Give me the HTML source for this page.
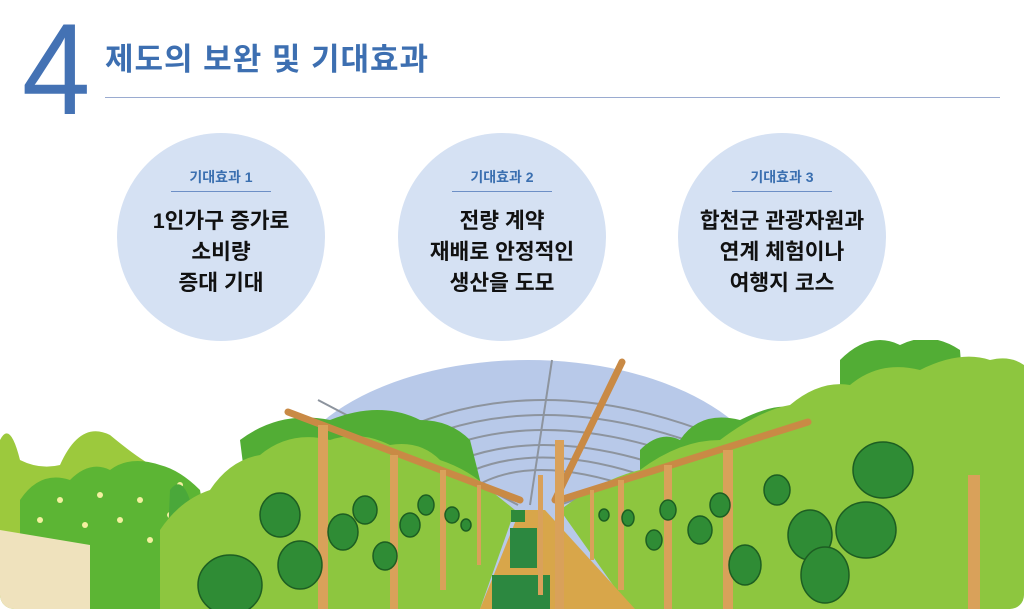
<!DOCTYPE html>
<html><head><meta charset="utf-8"><style>
html,body{margin:0;padding:0;background:#fff;overflow:hidden;}
#w{position:relative;width:1024px;height:609px;overflow:hidden;background:#fff;font-family:"Liberation Sans","Noto Sans CJK KR",sans-serif;}
.four{position:absolute;left:20px;top:4px;font-size:130px;color:#4472b4;font-family:"Liberation Sans",sans-serif;line-height:1;transform:scaleX(0.95);}
.title{position:absolute;left:105px;top:34px;font-size:31px;color:#3d6fb1;letter-spacing:1px;font-weight:bold;}
.rule{position:absolute;left:105px;top:97px;width:895px;height:1px;background:#9aabd0;}
.c{position:absolute;width:208px;height:208px;border-radius:50%;background:#d5e1f3;top:133px;text-align:center;}
.c .h{margin-top:34px;font-size:14px;font-weight:bold;color:#3a6fb0;display:inline-block;padding:0 8px 4px;border-bottom:1.5px solid #6d8fc6;width:84px;}
.c .t{margin-top:14px;font-size:21.5px;line-height:31px;color:#111;font-weight:bold;}
</style></head><body><div id="w">
<div class="four">4</div>
<div class="title">제도의 보완 및 기대효과</div>
<div class="rule"></div>
<div class="c" style="left:117px"><div class="h">기대효과 1</div><div class="t">1인가구 증가로<br>소비량<br>증대 기대</div></div>
<div class="c" style="left:398px"><div class="h">기대효과 2</div><div class="t">전량 계약<br>재배로 안정적인<br>생산을 도모</div></div>
<div class="c" style="left:678px"><div class="h">기대효과 3</div><div class="t">합천군 관광자원과<br>연계 체험이나<br>여행지 코스</div></div>
<svg style="position:absolute;left:0;top:0" width="1024" height="609" viewBox="0 0 1024 609">
<defs><clipPath id="cl"><rect x="0" y="340" width="1024" height="269" rx="14"/></clipPath></defs>
<g clip-path="url(#cl)">
<ellipse cx="528" cy="500" rx="248" ry="140" fill="#b8c9e9"/>
<g fill="none" stroke="#8d949e" stroke-width="2">
<path d="M330 470 Q528 330 790 470"/><path d="M360 470 Q528 360 760 470"/><path d="M390 475 Q528 385 730 475"/><path d="M420 480 Q528 410 700 480"/><path d="M445 485 Q528 430 670 485"/><path d="M470 490 Q528 450 640 490"/>
<line x1="552" y1="360" x2="530" y2="505"/><line x1="318" y1="400" x2="518" y2="505"/><line x1="800" y1="415" x2="560" y2="505"/>
</g>
<path d="M0 440 Q10 420 20 460 Q40 470 60 465 Q80 420 110 435 Q140 460 160 470 L180 609 L0 609Z" fill="#9cc93d"/>
<path d="M20 500 Q40 470 70 480 Q90 460 110 470 Q130 455 160 465 Q180 470 200 490 L220 609 L20 609Z" fill="#5cb534"/>
<g fill="#f4f0a0"><circle cx="40" cy="520" r="3"/><circle cx="60" cy="500" r="3"/><circle cx="85" cy="525" r="3"/><circle cx="100" cy="495" r="3"/><circle cx="120" cy="520" r="3"/><circle cx="140" cy="500" r="3"/><circle cx="150" cy="540" r="3"/><circle cx="170" cy="515" r="3"/><circle cx="200" cy="515" r="3"/><circle cx="75" cy="550" r="3"/><circle cx="180" cy="485" r="3"/></g>
<path d="M0 530 L90 545 L90 609 L0 609Z" fill="#efe2bd"/>
<path d="M170 490 Q185 470 195 520 L200 609 L165 609Z" fill="#4aa83a"/>
<path d="M240 440 Q280 410 330 420 Q380 400 420 420 Q450 420 470 440 L490 520 L250 520Z" fill="#52ad35"/>
<path d="M640 450 Q660 430 680 440 Q700 410 740 420 Q780 400 800 410 L810 609 L640 609Z" fill="#52ad35"/>
<path d="M840 360 Q870 330 900 345 Q930 330 960 350 L980 609 L840 609Z" fill="#52ad35"/>
<path d="M160 609 L160 530 Q180 500 210 490 Q230 460 260 455 Q290 430 330 440 Q360 430 390 445 Q420 440 440 460 Q470 470 490 490 L515 510 L480 609Z" fill="#8dc63f"/>
<path d="M560 510 Q600 480 640 470 Q680 440 720 440 Q760 410 790 405 Q820 380 850 385 Q880 360 920 370 Q960 350 990 360 Q1010 355 1024 365 L1024 609 L630 609Z" fill="#8dc63f"/>
<path d="M480 609 L520 510 L545 510 L635 609Z" fill="#d8a64a"/>
<rect x="511" y="510" width="14" height="12" fill="#2f8a3a"/>
<rect x="510" y="528" width="27" height="40" fill="#2c8840"/>
<rect x="492" y="575" width="58" height="34" fill="#2c8840"/>
<g stroke="#c98a45" stroke-width="7" stroke-linecap="round"><line x1="288" y1="412" x2="520" y2="500"/><line x1="808" y1="422" x2="560" y2="500"/><line x1="622" y1="362" x2="555" y2="500"/></g>
<g fill="#d9a15a">
<rect x="318" y="425" width="10" height="184"/><rect x="390" y="455" width="8" height="154"/><rect x="440" y="470" width="6" height="120"/><rect x="477" y="485" width="4" height="80"/>
<rect x="555" y="440" width="9" height="169"/><rect x="538" y="475" width="5" height="120"/>
<rect x="723" y="450" width="10" height="159"/><rect x="664" y="465" width="8" height="144"/><rect x="618" y="480" width="6" height="110"/><rect x="590" y="490" width="4" height="70"/>
<rect x="968" y="475" width="12" height="134"/>
</g>
<g fill="#2f8c35" stroke="#1d5e22" stroke-width="1.5">
<ellipse cx="230" cy="585" rx="32" ry="30"/><ellipse cx="280" cy="515" rx="20" ry="22"/><ellipse cx="300" cy="565" rx="22" ry="24"/><ellipse cx="343" cy="532" rx="15" ry="18"/><ellipse cx="365" cy="510" rx="12" ry="14"/><ellipse cx="385" cy="556" rx="12" ry="14"/><ellipse cx="410" cy="525" rx="10" ry="12"/><ellipse cx="426" cy="505" rx="8" ry="10"/><ellipse cx="452" cy="515" rx="7" ry="8"/><ellipse cx="466" cy="525" rx="5" ry="6"/>
<ellipse cx="883" cy="470" rx="30" ry="28"/><ellipse cx="866" cy="530" rx="30" ry="28"/><ellipse cx="810" cy="535" rx="22" ry="25"/><ellipse cx="825" cy="575" rx="24" ry="28"/><ellipse cx="777" cy="490" rx="13" ry="15"/><ellipse cx="745" cy="565" rx="16" ry="20"/><ellipse cx="720" cy="505" rx="10" ry="12"/><ellipse cx="700" cy="530" rx="12" ry="14"/><ellipse cx="668" cy="510" rx="8" ry="10"/><ellipse cx="654" cy="540" rx="8" ry="10"/><ellipse cx="628" cy="518" rx="6" ry="8"/><ellipse cx="604" cy="515" rx="5" ry="6"/>
</g>
</g>
</svg>
</div></body></html>
